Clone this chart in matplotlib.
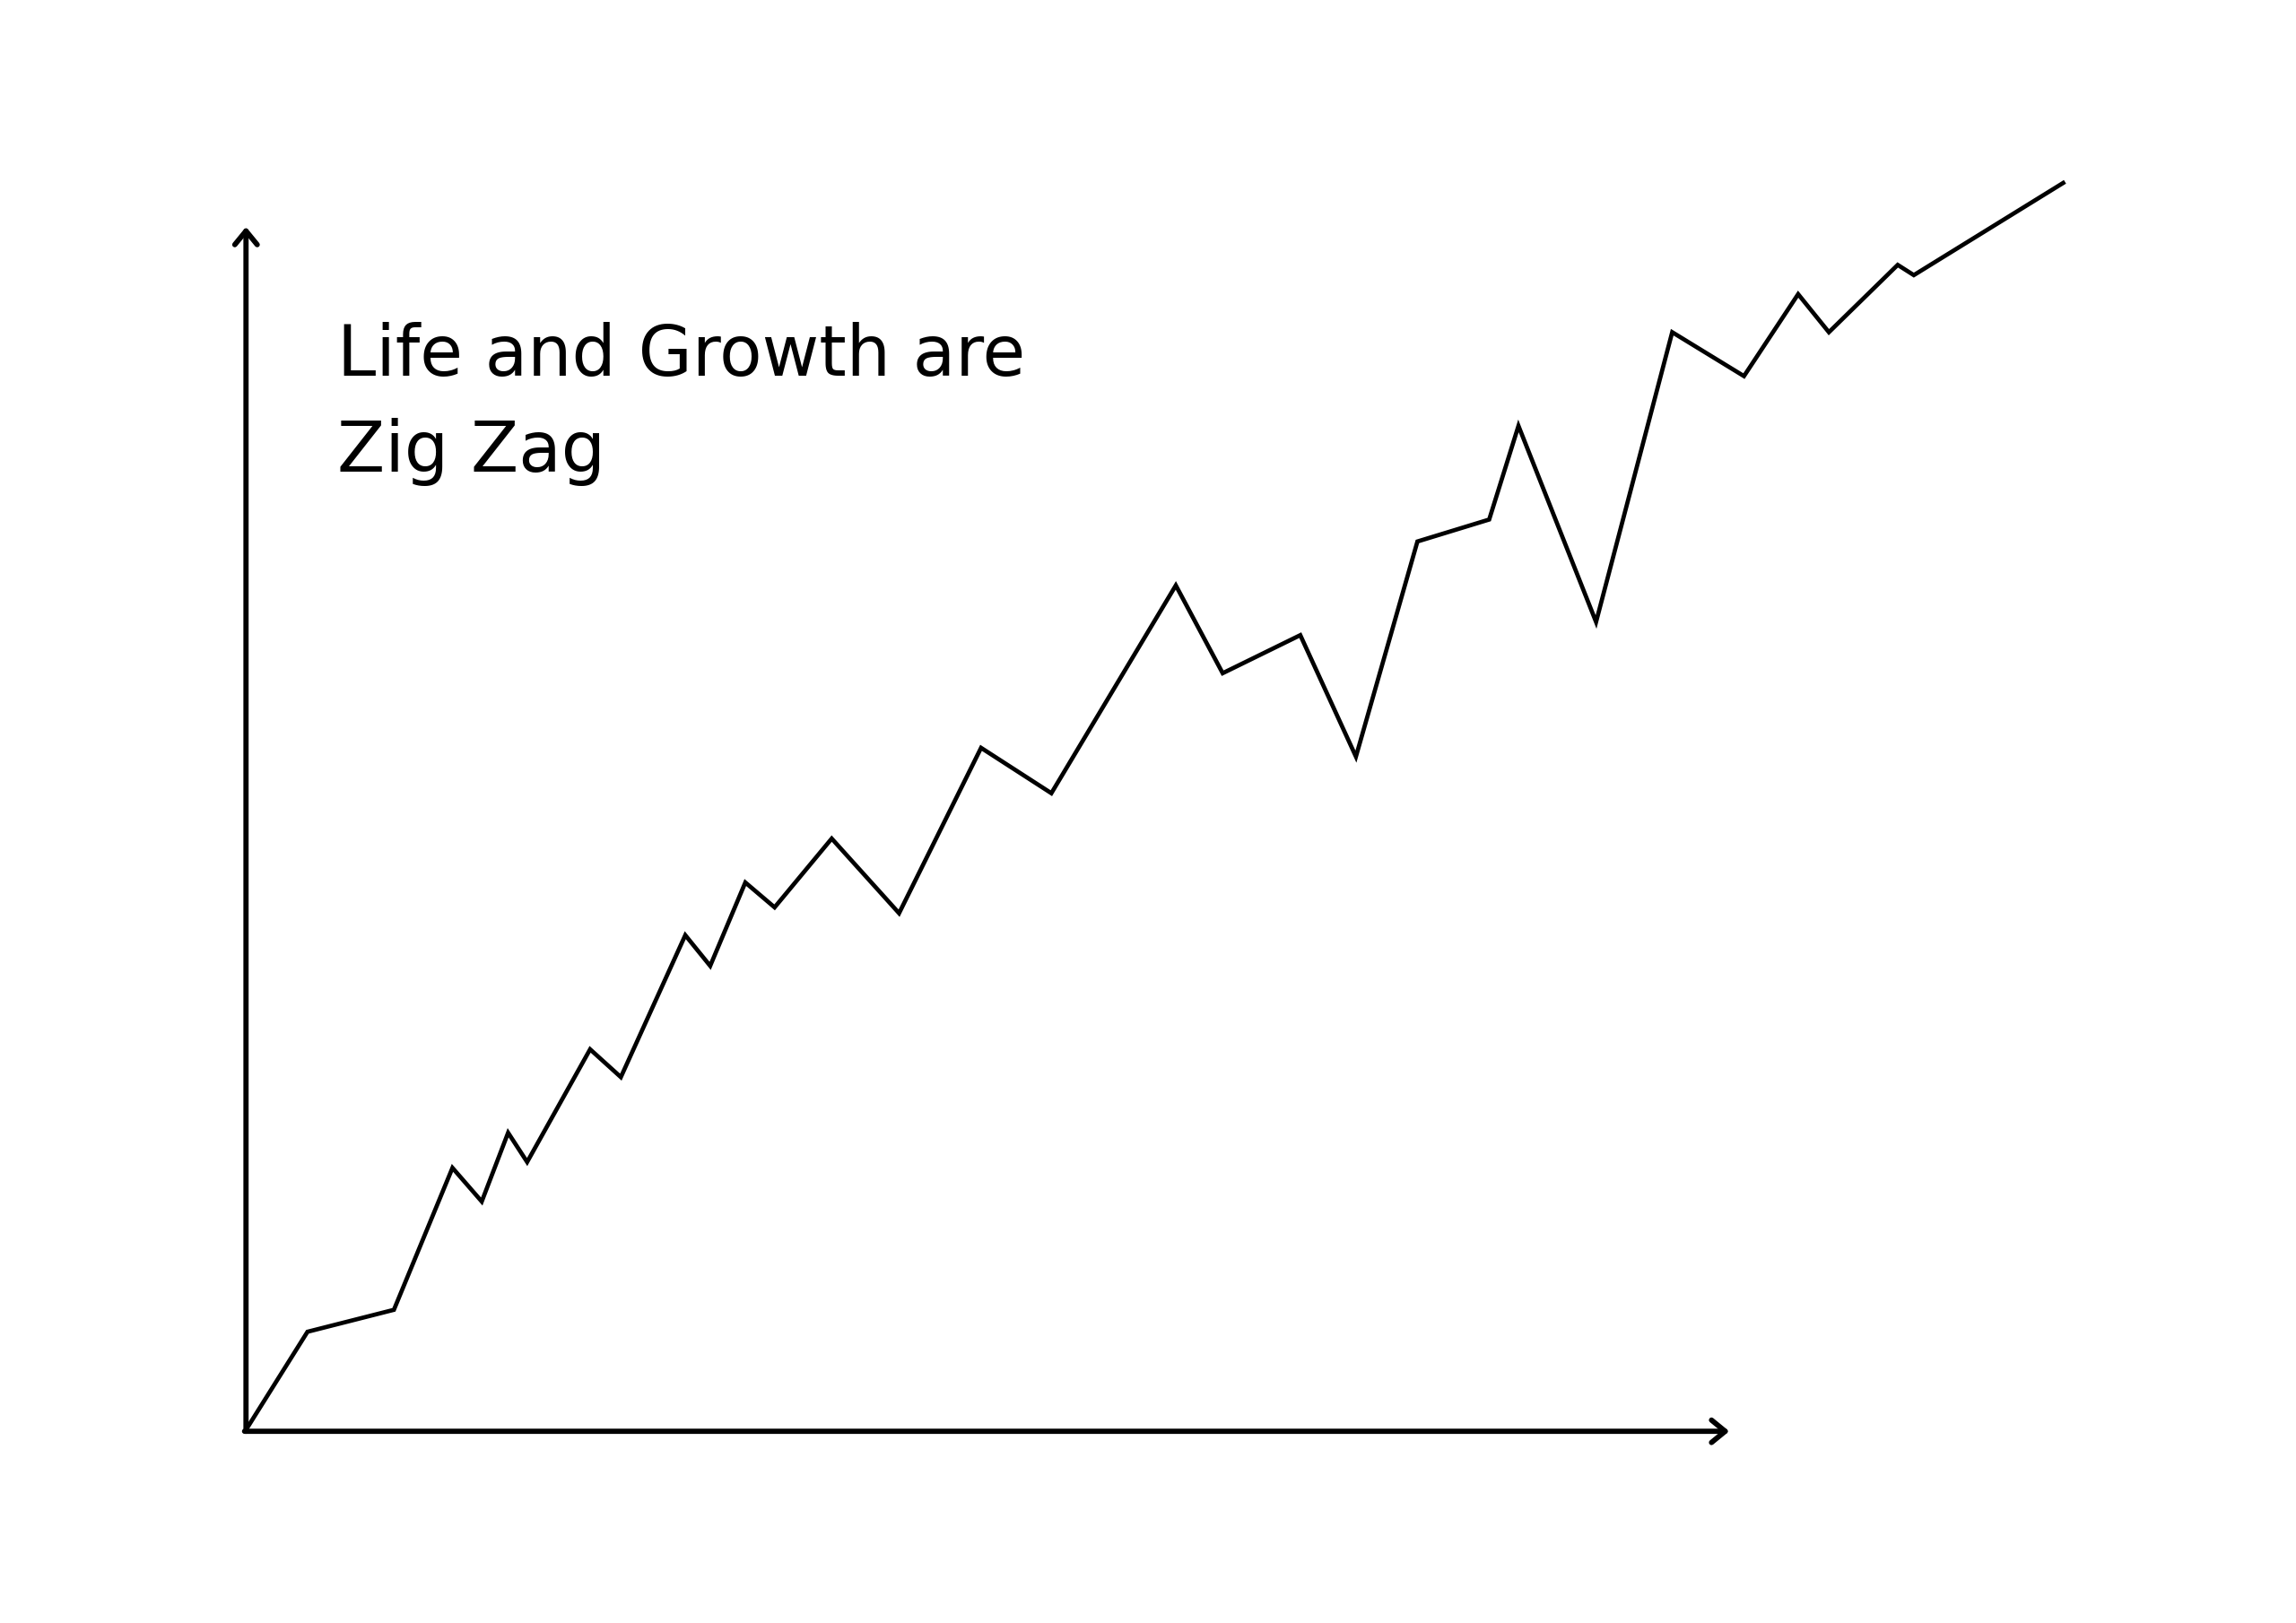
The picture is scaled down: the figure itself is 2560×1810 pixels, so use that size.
import matplotlib
matplotlib.use("Agg")
import matplotlib.pyplot as plt

# Zig-zag growth path (time, growth), origin at (0, 0)
time = [0, 42, 101, 141, 161, 179, 192, 235, 256, 300, 317, 341, 361, 400, 446,
        502, 550, 635, 667, 720, 758, 800, 849, 869, 922, 974, 1023, 1060, 1081,
        1128, 1139, 1241]
growth = [0, 67, 82, 179, 156, 203, 183, 260, 241, 338, 317, 374, 357, 404, 353,
          466, 435, 577, 517, 543, 460, 607, 622, 686, 552, 750, 720, 776, 750,
          796, 789, 852]

title_lines = ["Life and Growth are", "Zig Zag"]

fig = plt.figure(figsize=(12.8, 9.05), dpi=200)
ax = fig.add_axes([0, 0, 1, 1])
ax.set_xlim(-168, 1400)
ax.set_ylim(-132, 977)
ax.axis("off")

lw = 1.7
ax.plot(time, growth, color="black", lw=lw, solid_joinstyle="miter")

# axes with open arrowheads
arrow = dict(arrowstyle="->,head_length=0.55,head_width=0.45", color="black",
             lw=2.1, capstyle="round", joinstyle="round", shrinkA=0, shrinkB=0)
ax.annotate("", xy=(0, 822), xytext=(0, -1), arrowprops=arrow)
ax.annotate("", xy=(1013, -1), xytext=(-1, -1), arrowprops=arrow)

ax.text(62, 720, title_lines[0], fontsize=28, family="DejaVu Sans",
        va="baseline", ha="left", color="black")
ax.text(62, 655, title_lines[1], fontsize=28, family="DejaVu Sans",
        va="baseline", ha="left", color="black")

fig.savefig("out.png", dpi=200, facecolor="white")
